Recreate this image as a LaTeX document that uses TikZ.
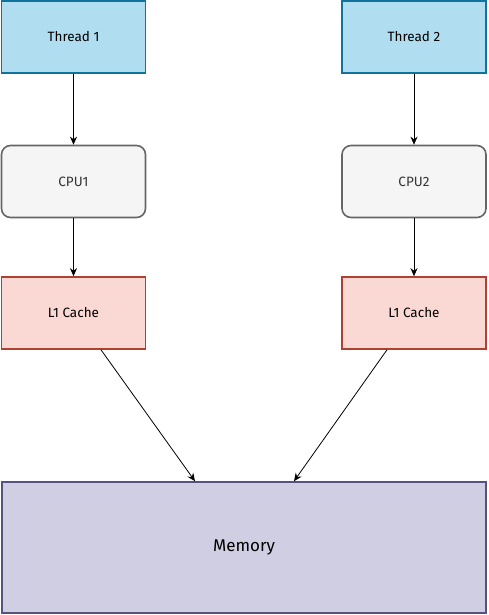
\documentclass[tikz,border=0pt]{standalone}
\usepackage{fontspec}
\setmainfont{Fira Sans}
\usetikzlibrary{arrows.meta}
\definecolor{thfill}{HTML}{B1DDF0}
\definecolor{thline}{HTML}{10739E}
\definecolor{cpufill}{HTML}{F5F5F5}
\definecolor{cpuline}{HTML}{666666}
\definecolor{cpatext}{HTML}{333333}
\definecolor{l1fill}{HTML}{FAD9D5}
\definecolor{l1line}{HTML}{AE4132}
\definecolor{memfill}{HTML}{D0CEE2}
\definecolor{memline}{HTML}{56517E}
\begin{document}
\begin{tikzpicture}[x=1pt,y=-1pt,
  box/.style={minimum width=144pt,minimum height=72pt,line width=1.6pt,inner sep=0pt,font=\fontsize{13.5}{15}\selectfont},
  thbox/.style={box,draw=thline,fill=thfill},
  cpubox/.style={box,draw=cpuline,fill=cpufill,rounded corners=9pt,text=cpatext},
  l1box/.style={box,draw=l1line,fill=l1fill},
  membox/.style={line width=1.6pt,draw=memline,fill=memfill,minimum width=484pt,minimum height=131pt,inner sep=0pt,font=\fontsize{17}{19}\selectfont},
  conn/.style={draw=black,line width=0.8pt,-{Stealth[length=8pt,width=7pt]}}
]
\useasboundingbox (0,0) rectangle (488,615);
\node[thbox] (t1) at (73.5,37) {Thread 1};
\node[thbox] (t2) at (414,37) {Thread 2};
\node[cpubox] (c1) at (73.5,181.5) {CPU1};
\node[cpubox] (c2) at (414,181.5) {CPU2};
\node[l1box] (l1) at (73.5,313) {L1 Cache};
\node[l1box] (l2) at (414,313) {L1 Cache};
\node[membox] (m) at (244,547.5) {Memory};
\draw[conn] (t1) -- (c1);
\draw[conn] (t2) -- (c2);
\draw[conn] (c1) -- (l1);
\draw[conn] (c2) -- (l2);
\draw[conn] ([xshift=27.5pt]l1.south) -- ([xshift=-49pt]m.north);
\draw[conn] ([xshift=-27pt]l2.south) -- ([xshift=50pt]m.north);
\end{tikzpicture}
\end{document}
